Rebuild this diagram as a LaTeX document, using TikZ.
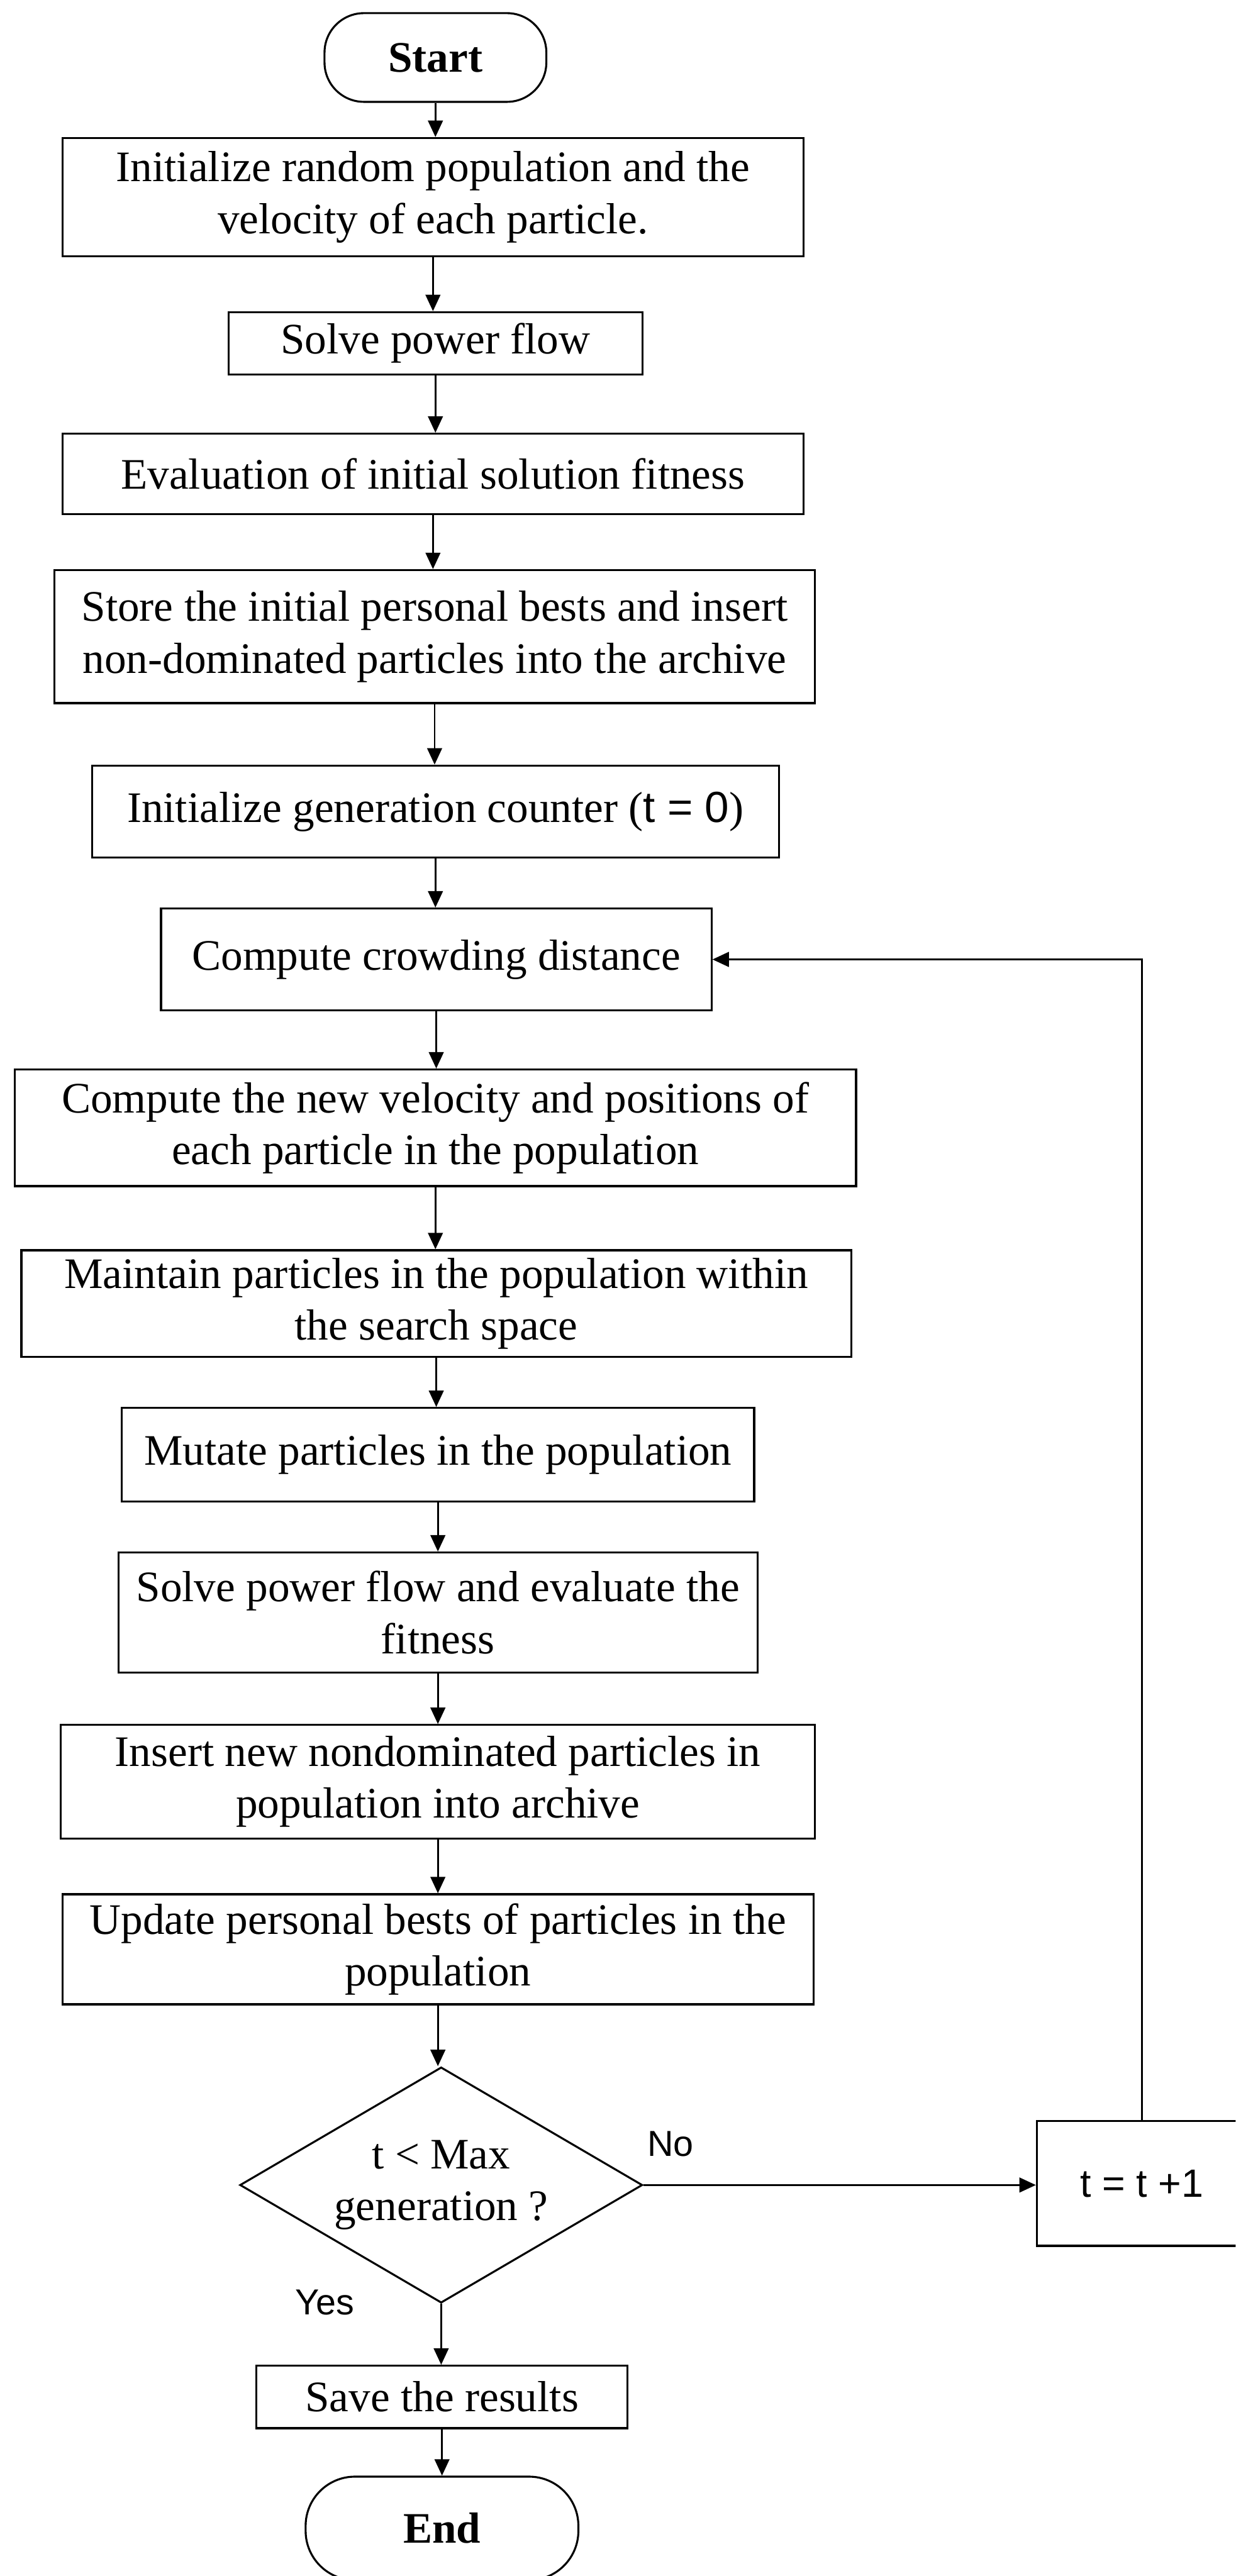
\documentclass[tikz,border=0pt]{standalone}
\usepackage{fontspec}
\setmainfont{Liberation Serif}
\newfontfamily\sansf{Liberation Sans}
\usetikzlibrary{arrows.meta,shapes.geometric}
\begin{document}
\begin{tikzpicture}[x=1pt,y=-1pt,
  box/.style={draw,line width=1.2pt,inner sep=0pt,align=center,font=\fontsize{26.5}{31.5}\selectfont},
  term/.style={box,font=\fontsize{26.5}{31.5}\selectfont\bfseries},
  dec/.style={box,shape=diamond,shape aspect=1.7},
  arr/.style={line width=1.1pt,-{Triangle[length=10pt,width=9pt]}},
  lbl/.style={font=\fontsize{22}{26}\selectfont\sansf,inner sep=0pt}]
\useasboundingbox (0,0) rectangle (752,1568);
\clip (0,0) rectangle (752,1568);

\node[term,rounded corners=24pt,minimum width=135pt,minimum height=54pt] (start) at (265,35) {Start};
\node[box,minimum width=451pt,minimum height=72pt] (b1) at (263.5,120) {Initialize random population and the\\velocity of each particle.};
\node[box,minimum width=252pt,minimum height=38pt] (b2) at (265,209) {Solve power flow};
\node[box,minimum width=451pt,minimum height=49pt] (b3) at (263.5,288.5) {Evaluation of initial solution fitness};
\node[box,minimum width=463pt,minimum height=81pt] (b4) at (264.5,387.5) {Store the initial personal bests and insert\\non-dominated particles into the archive};
\node[box,minimum width=418pt,minimum height=56pt] (b5) at (265,494) {Initialize generation counter ({\sansf t = 0})};
\node[box,minimum width=335pt,minimum height=62pt] (b6) at (265.5,584) {Compute crowding distance};
\node[box,minimum width=512pt,minimum height=71pt] (b7) at (265,686.5) {Compute the new velocity and positions of\\each particle in the population};
\node[box,minimum width=505pt,minimum height=65pt] (b8) at (265.5,793.5) {Maintain particles in the population within\\the search space};
\node[box,minimum width=385pt,minimum height=57pt] (b9) at (266.5,885.5) {Mutate particles in the population};
\node[box,minimum width=389pt,minimum height=73pt] (b10) at (266.5,981.5) {Solve power flow and evaluate the\\fitness};
\node[box,minimum width=459pt,minimum height=69pt] (b11) at (266.5,1084.5) {Insert new nondominated particles in\\population into archive};
\node[box,minimum width=457pt,minimum height=67pt] (b12) at (266.5,1186.5) {Update personal bests of particles in the\\population};
\node[dec,minimum width=245pt,minimum height=143.5pt] (dia) at (268.5,1330) {t < Max\\generation ?};
\node[box,minimum width=128pt,minimum height=76pt,font=\fontsize{24}{28}\selectfont\sansf] (tbox) at (695,1329) {t = t +1};
\node[box,minimum width=226pt,minimum height=38pt] (save) at (269,1459) {Save the results};
\node[term,rounded corners=30pt,minimum width=166pt,minimum height=63pt] (end) at (269,1539) {End};

\node[lbl] (no) at (408,1305) {No};
\node[lbl] (yes) at (197.5,1401.5) {Yes};

\draw[arr] (start.south) -- (start.south |- b1.north);
\draw[arr] (b1.south) -- (b1.south |- b2.north);
\draw[arr] (b2.south) -- (b2.south |- b3.north);
\draw[arr] (b3.south) -- (b3.south |- b4.north);
\draw[arr] (b4.south) -- (b4.south |- b5.north);
\draw[arr] (b5.south) -- (b5.south |- b6.north);
\draw[arr] (b6.south) -- (b6.south |- b7.north);
\draw[arr] (b7.south) -- (b7.south |- b8.north);
\draw[arr] (b8.south) -- (b8.south |- b9.north);
\draw[arr] (b9.south) -- (b9.south |- b10.north);
\draw[arr] (b10.south) -- (b10.south |- b11.north);
\draw[arr] (b11.south) -- (b11.south |- b12.north);
\draw[arr] (b12.south) -- (b12.south |- dia.north);
\draw[arr] (dia.east) -- (dia.east -| tbox.west);
\draw[arr] (dia.south) -- (dia.south |- save.north);
\draw[arr] (save.south) -- (save.south |- end.north);
\coordinate (lc) at (tbox.north |- b6.east);
\draw[arr] (tbox.north) -- (lc) -- (b6.east);
\end{tikzpicture}
\end{document}
